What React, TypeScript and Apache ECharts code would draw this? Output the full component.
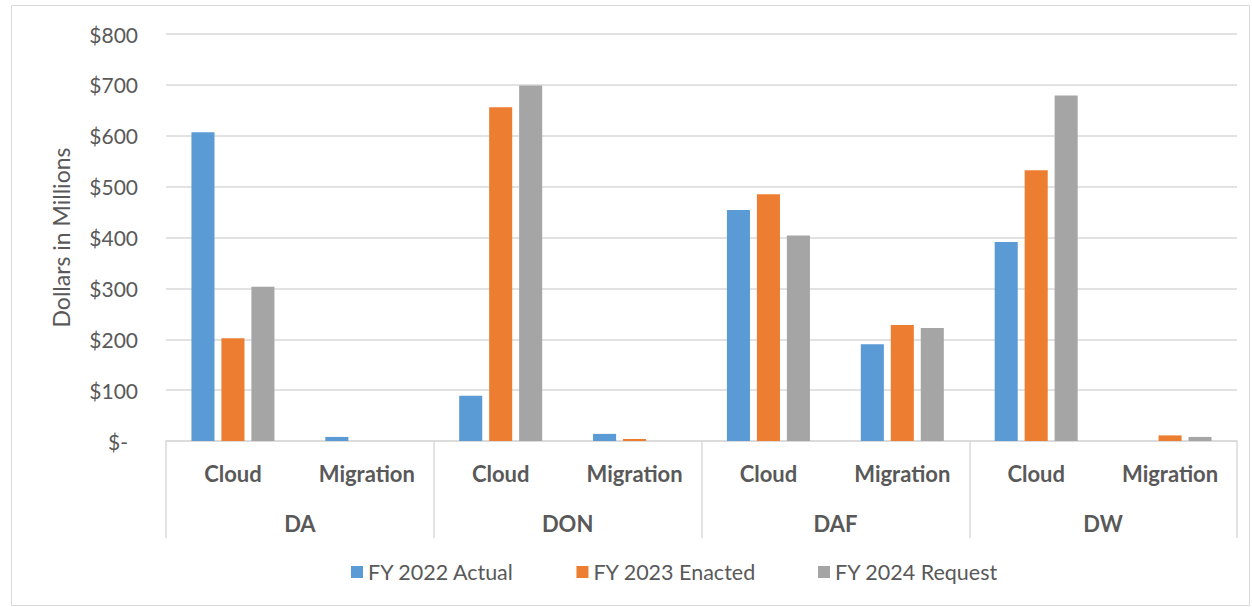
import React, { useEffect, useRef } from "react";
import * as echarts from "echarts";

const subCategories = ["Cloud", "Migration", "Cloud", "Migration", "Cloud", "Migration", "Cloud", "Migration"];
const groups = ["DA", "DON", "DAF", "DW"];
const fy2022Actual = [607, 8, 89, 14, 454, 190, 391, 0];
const fy2023Enacted = [202, 0, 656, 4, 485, 228, 532, 11];
const fy2024Request = [303, 0, 699, 0, 404, 222, 679, 8];
const seriesNames = ["FY 2022 Actual", "FY 2023 Enacted", "FY 2024 Request"];
const seriesColors = ["#5B9BD5", "#ED7D31", "#A5A5A5"];
const yTicks = [0, 100, 200, 300, 400, 500, 600, 700, 800];

const FONT = "Lato, 'Open Sans', sans-serif";
const TEXT = "#595959";
const LINE = "#d9d9d9";

export default function App() {
  const ref = useRef<HTMLDivElement>(null);
  useEffect(() => {
    document.body.style.margin = "0";
    if (!ref.current) return;
    const chart = echarts.init(ref.current, undefined, { renderer: "svg" });
    const data = [fy2022Actual, fy2023Enacted, fy2024Request];
    chart.setOption({
      animation: false,
      textStyle: { fontFamily: FONT },
      graphic: [
        {
          type: "rect",
          shape: { x: 11.5, y: 5.5, width: 1238, height: 600 },
          style: { fill: "none", stroke: LINE, lineWidth: 1 },
          silent: true,
        },
      ],
      grid: { left: 166, right: 15, top: 34, bottom: 166, containLabel: false },
      legend: {
        left: 346,
        top: 556,
        itemWidth: 12,
        itemHeight: 12,
        itemGap: 62,
        icon: "rect",
        textStyle: { color: TEXT, fontSize: 21.5, fontFamily: FONT },
        data: seriesNames,
      },
      xAxis: [
        {
          type: "category",
          data: subCategories,
          axisLine: { show: true, lineStyle: { color: LINE, width: 1.5 } },
          axisTick: { show: false },
          axisLabel: {
            interval: 0,
            color: TEXT,
            fontSize: 22,
            fontWeight: "bold",
            fontFamily: FONT,
            margin: 21,
          },
        },
        {
          type: "category",
          data: groups,
          position: "bottom",
          axisLine: { show: false },
          axisTick: { show: true, length: 97, interval: 0, lineStyle: { color: LINE, width: 1.5 } },
          axisLabel: {
            interval: 0,
            color: TEXT,
            fontSize: 22,
            fontWeight: "bold",
            fontFamily: FONT,
            margin: 71,
          },
        },
      ],
      yAxis: {
        type: "value",
        min: 0,
        max: 800,
        interval: 100,
        name: "Dollars in Millions",
        nameLocation: "middle",
        nameGap: 94,
        nameTextStyle: { color: TEXT, fontSize: 23, fontFamily: FONT },
        axisLine: { show: false },
        axisTick: { show: false },
        splitLine: { lineStyle: { color: LINE, width: 1.5 } },
        axisLabel: {
          color: TEXT,
          fontSize: 21,
          fontFamily: FONT,
          margin: 28,
          customValues: yTicks,
          formatter: (v: number) => (v === 0 ? "{z|$-}" : "$" + v),
          rich: { z: { color: TEXT, fontSize: 21, fontFamily: FONT, padding: [0, 10, 0, 0] } },
        },
      },
      series: seriesNames.map((name, i) => ({
        name,
        type: "bar",
        xAxisIndex: 0,
        data: data[i],
        barGap: "30%",
        barCategoryGap: "38%",
        itemStyle: { color: seriesColors[i] },
      })),
    });
    return () => chart.dispose();
  }, []);
  return <div ref={ref} style={{ width: 1252, height: 607 }} />;
}
